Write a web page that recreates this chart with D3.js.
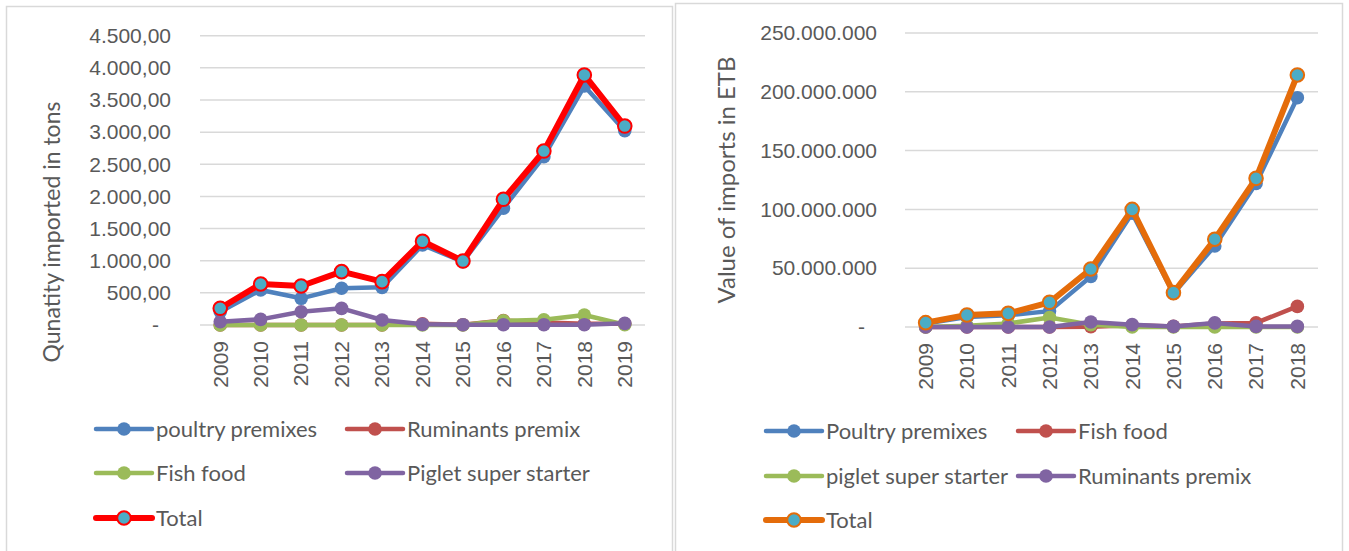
<!DOCTYPE html>
<html>
<head>
<meta charset="utf-8">
<script src="https://cdn.jsdelivr.net/npm/d3@7"></script>
<style>
  body { margin: 0; background: #fff; }
  svg { font-family: Lato, "Open Sans", sans-serif; }
</style>
</head>
<body>
<svg id="chart" width="1349" height="551"></svg>
<script>
// Data - left chart (quantity, tons)
const yearsQty = ["2009","2010","2011","2012","2013","2014","2015","2016","2017","2018","2019"];
const poultryQty = [207, 544, 415, 571, 586, 1244, 985, 1815, 2618, 3717, 3022];
const ruminantsQty = [0, 0, 0, 0, 0, 20, 5, 70, 40, 20, 20];
const fishQty = [0, 0, 0, 0, 0, 0, 0, 65, 80, 155, 5];
const pigletQty = [50, 88, 207, 259, 78, 10, 5, 5, 5, 5, 26];
const totalQty = [260, 638, 607, 830, 674, 1302, 995, 1955, 2706, 3889, 3095];
const qtyTicks = [0, 500, 1000, 1500, 2000, 2500, 3000, 3500, 4000, 4500];

// Data - right chart (value, ETB)
const yearsVal = ["2009","2010","2011","2012","2013","2014","2015","2016","2017","2018"];
const poultryVal = [3.0e6, 8.5e6, 9.9e6, 13.5e6, 43e6, 96.7e6, 28.5e6, 68.9e6, 122e6, 195e6];
const fishVal = [0, 0, 0, 0, 0.3e6, 1.5e6, 0.5e6, 3e6, 3.5e6, 17.5e6];
const pigletVal = [0, 1e6, 3e6, 8e6, 2e6, 0, 0, 0, 0, 0];
const ruminantsVal = [0, 0, 0, 0, 4.3e6, 2e6, 0.5e6, 3.5e6, 0.5e6, 0.5e6];
const totalVal = [3.7e6, 10.2e6, 11.6e6, 21e6, 49.3e6, 100e6, 29.2e6, 74.6e6, 126.4e6, 214.3e6];
const valTicks = [0, 50e6, 100e6, 150e6, 200e6, 250e6];

const loc = d3.formatLocale({ decimal: ",", thousands: ".", grouping: [3], currency: ["", ""] });
const fmtQty = d => d === 0 ? "-" : loc.format(",.2f")(d);
const fmtVal = d => d === 0 ? "-" : loc.format(",.0f")(d);

const textColor = "#595959";
const gridColor = "#d9d9d9";
const svg = d3.select("#chart");

// panel borders
svg.append("rect").attr("x", 6.5).attr("y", 6.5).attr("width", 666).attr("height", 560)
  .attr("fill", "none").attr("stroke", gridColor).attr("stroke-width", 1.5);
svg.append("rect").attr("x", 675.5).attr("y", 3.5).attr("width", 667).attr("height", 560)
  .attr("fill", "none").attr("stroke", gridColor).attr("stroke-width", 1.5);

function drawChart(cfg) {
  const g = svg.append("g");
  const x = d3.scaleBand().domain(cfg.years).range([cfg.left, cfg.right]).padding(0);
  const y = d3.scaleLinear().domain([0, cfg.ticks[cfg.ticks.length - 1]]).range([cfg.bottom, cfg.top]);
  const cx = d => x(d) + x.bandwidth() / 2;

  // gridlines
  g.selectAll("line.grid").data(cfg.ticks).enter().append("line")
    .attr("x1", cfg.left).attr("x2", cfg.right)
    .attr("y1", d => y(d)).attr("y2", d => y(d))
    .attr("stroke", gridColor).attr("stroke-width", 1.5);

  // y axis labels
  const yAxis = g.append("g").attr("transform", `translate(${cfg.left},0)`)
    .call(d3.axisLeft(y).tickValues(cfg.ticks).tickFormat(cfg.fmt).tickSize(0).tickPadding(cfg.left - cfg.labelRight));
  yAxis.select(".domain").remove();
  yAxis.selectAll("text").attr("fill", textColor).style("font-size", "21px")
    .attr("font-family", null)
    .attr("dx", d => d === 0 ? -12 : 0);

  // x axis labels (rotated)
  const xAxis = g.append("g").attr("transform", `translate(0,${cfg.bottom})`)
    .call(d3.axisBottom(x).tickSize(0));
  xAxis.select(".domain").remove();
  xAxis.selectAll("text").attr("fill", textColor).style("font-size", "21px")
    .attr("font-family", null)
    .attr("transform", "rotate(-90)")
    .attr("text-anchor", "end")
    .attr("x", -16).attr("y", 0).attr("dy", "0.35em");

  // y title
  g.append("text")
    .attr("transform", `translate(${cfg.titleX},${cfg.titleY}) rotate(-90)`)
    .attr("text-anchor", "middle").attr("dy", "0.35em")
    .attr("fill", textColor).style("font-size", cfg.titleSize)
    .text(cfg.title);

  const line = d3.line().x((d, i) => cx(cfg.years[i])).y(d => y(d));

  cfg.series.forEach(s => {
    g.append("path").datum(s.values)
      .attr("d", line).attr("fill", "none")
      .attr("stroke", s.color).attr("stroke-width", s.total ? 6 : 4.5)
      .attr("stroke-linejoin", "round").attr("stroke-linecap", "round");
    g.selectAll(null).data(s.values).enter().append("circle")
      .attr("cx", (d, i) => cx(cfg.years[i])).attr("cy", d => y(d))
      .attr("r", 6.8)
      .attr("fill", s.total ? "#4bacc6" : s.color)
      .attr("stroke", s.color).attr("stroke-width", s.total ? 2 : 0);
  });

  // legend
  const leg = g.selectAll("g.leg").data(cfg.series).enter().append("g")
    .attr("transform", (d, i) => `translate(${cfg.legX[i % 2]},${cfg.legY[Math.floor(i / 2)]})`);
  leg.append("line").attr("x1", 0).attr("x2", 56).attr("y1", 0).attr("y2", 0)
    .attr("stroke", d => d.color).attr("stroke-width", d => d.total ? 6 : 4.5)
    .attr("stroke-linecap", "round");
  leg.append("circle").attr("cx", 28).attr("cy", 0).attr("r", 6.8)
    .attr("fill", d => d.total ? "#4bacc6" : d.color)
    .attr("stroke", d => d.color).attr("stroke-width", d => d.total ? 2 : 0);
  leg.append("text").attr("x", 60).attr("dy", "0.35em")
    .attr("fill", textColor).style("font-size", "22px")
    .text(d => d.name);
}

drawChart({
  years: yearsQty, ticks: qtyTicks, fmt: fmtQty,
  left: 200, right: 645, top: 35.7, bottom: 325, labelRight: 171,
  title: "Qunatity imported in tons", titleX: 52, titleY: 232, titleSize: "23px",
  legX: [96, 347], legY: [429, 473, 518],
  series: [
    { name: "poultry premixes", values: poultryQty, color: "#4f81bd" },
    { name: "Ruminants premix", values: ruminantsQty, color: "#c0504d" },
    { name: "Fish food", values: fishQty, color: "#9bbb59" },
    { name: "Piglet super starter", values: pigletQty, color: "#8064a2" },
    { name: "Total", values: totalQty, color: "#ff0000", total: true }
  ]
});

drawChart({
  years: yearsVal, ticks: valTicks, fmt: fmtVal,
  left: 905, right: 1318, top: 33, bottom: 327, labelRight: 877,
  title: "Value of imports in ETB", titleX: 727, titleY: 180, titleSize: "24px",
  legX: [766, 1018], legY: [431, 476, 520],
  series: [
    { name: "Poultry premixes", values: poultryVal, color: "#4f81bd" },
    { name: "Fish food", values: fishVal, color: "#c0504d" },
    { name: "piglet super starter", values: pigletVal, color: "#9bbb59" },
    { name: "Ruminants premix", values: ruminantsVal, color: "#8064a2" },
    { name: "Total", values: totalVal, color: "#e46c0a", total: true }
  ]
});
</script>
</body>
</html>
